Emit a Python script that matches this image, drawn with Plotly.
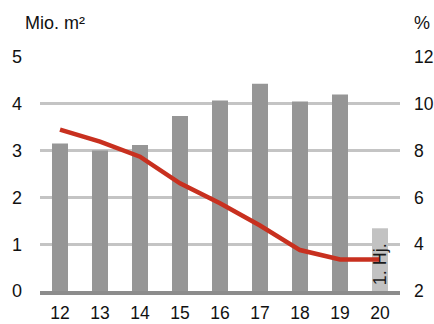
import plotly.graph_objects as go

# Years (20xx) and values
years = ["12", "13", "14", "15", "16", "17", "18", "19", "20"]
area_mio_m2 = [3.15, 3.0, 3.12, 3.74, 4.07, 4.43, 4.05, 4.20, 1.34]
rate_pct = [8.9, 8.38, 7.74, 6.6, 5.75, 4.8, 3.75, 3.35, 3.35]
left_ticks = [0, 1, 2, 3, 4, 5]
right_ticks = [2, 4, 6, 8, 10, 12]

bar_colors = ["#969696"] * (len(years) - 1) + ["#c2c2c2"]
font_family = "Liberation Sans, Arial, sans-serif"
fs = 18

fig = go.Figure()
fig.add_trace(go.Bar(
    x=years, y=area_mio_m2, marker=dict(color=bar_colors, line=dict(width=0)),
    yaxis="y", showlegend=False, hoverinfo="skip",
))
fig.add_trace(go.Scatter(
    x=years, y=rate_pct, mode="lines",
    line=dict(color="#c8301f", width=4.5, shape="linear"),
    yaxis="y2", showlegend=False, hoverinfo="skip",
))

fig.update_layout(
    width=434, height=324,
    margin=dict(l=40, r=34, t=57, b=33),
    paper_bgcolor="white", plot_bgcolor="white",
    font=dict(family=font_family, size=fs, color="#111111"),
    bargap=0.6,
    xaxis=dict(
        type="category", range=[-0.5, len(years) - 0.5], automargin=False,
        showgrid=False, zeroline=False,
        showline=True, linecolor="#8c8c8c", linewidth=4,
        ticks="", ticklabelstandoff=3,
        tickfont=dict(size=fs - 0.5),
    ),
    yaxis=dict(
        range=[0, 5], tickvals=left_ticks, showgrid=True, automargin=False,
        gridcolor="#c4c4c4", gridwidth=2.5, zeroline=False,
        ticks="", ticklabelstandoff=17, tickfont=dict(size=fs),
    ),
    yaxis2=dict(
        range=[2, 12], tickvals=right_ticks, overlaying="y", side="right",
        showgrid=False, zeroline=False, ticks="", ticklabelstandoff=13,
        automargin=False, tickfont=dict(size=fs - 0.5),
    ),
    annotations=[
        dict(text="Mio. m²", xref="paper", yref="paper",
             x=(23 - 40) / 360, y=(291 - 23) / 234,
             xanchor="left", yanchor="middle", showarrow=False,
             font=dict(size=fs)),
        dict(text="%", xref="paper", yref="paper",
             x=(412 - 40) / 360, y=(291 - 23) / 234,
             xanchor="left", yanchor="middle", showarrow=False,
             font=dict(size=fs)),
        dict(text="1. Hj.", xref="x", yref="y", x=len(years) - 1, y=0.08,
             textangle=-90, xanchor="center", yanchor="bottom",
             showarrow=False, font=dict(size=fs, color="#1a1a1a")),
    ],
)

fig.write_html("out.html")
